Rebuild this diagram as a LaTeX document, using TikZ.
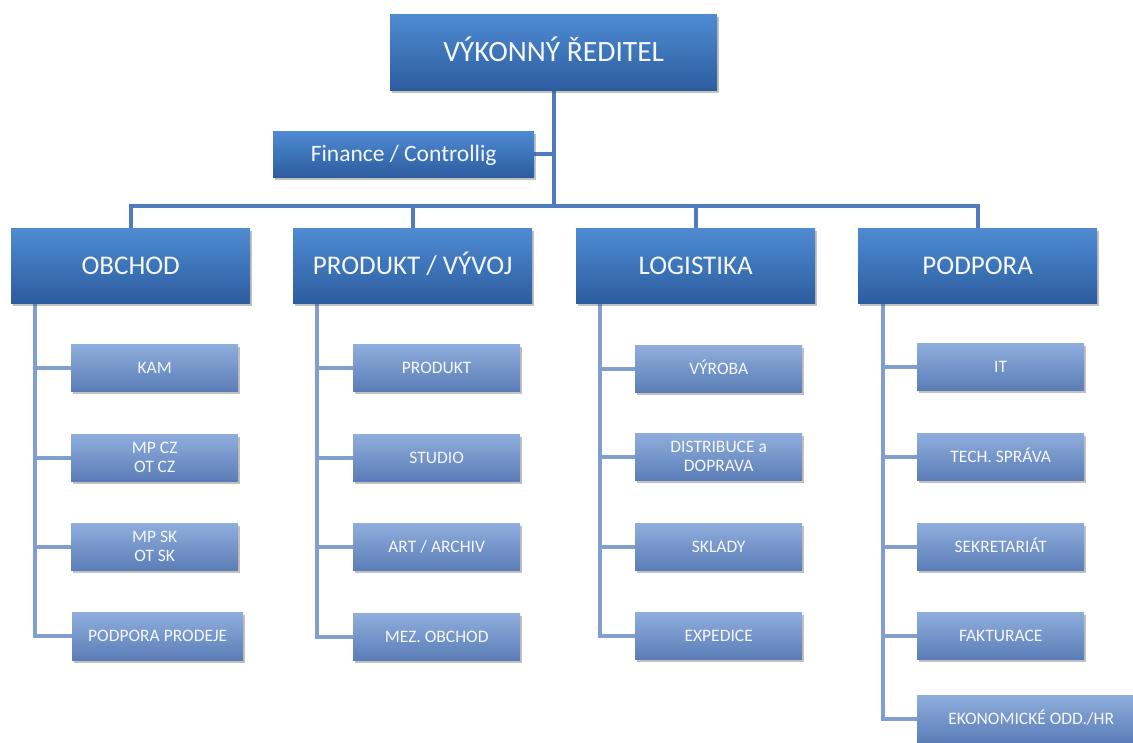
\documentclass[tikz,border=0pt]{standalone}
\usepackage{fontspec}
\setmainfont{Carlito}
\usetikzlibrary{shadows}
\pgfdeclarelayer{background}
\pgfsetlayers{background,main}
\definecolor{boxtop}{HTML}{4F8BD2}
\definecolor{boxbot}{HTML}{2C5D9F}
\definecolor{subtop}{HTML}{8FAEDD}
\definecolor{subbot}{HTML}{5B7DB7}
\definecolor{mainline}{HTML}{4E7CBC}
\definecolor{subline}{HTML}{809ECE}
\definecolor{txt}{HTML}{F4F7FC}
\tikzset{
  x=1pt, y=-1pt,
  boxbase/.style={rectangle, anchor=north west, inner sep=2pt, align=center,
    text=txt, draw=none, text depth=0pt,
    drop shadow={shadow xshift=2pt, shadow yshift=-3pt, opacity=0.35, fill=black!70}},
  twolines/.style={text height=, text depth=},
  headbox/.style={boxbase, top color=boxtop, bottom color=boxbot, text height=17.4pt,
    minimum width=239pt, minimum height=75pt, font=\fontsize{27}{30}\selectfont},
  ceobox/.style={boxbase, top color=boxtop, bottom color=boxbot, text height=19pt,
    minimum width=327pt, minimum height=76pt, font=\fontsize{29.5}{32}\selectfont},
  finbox/.style={boxbase, top color=boxtop, bottom color=boxbot, text height=15.1pt,
    minimum width=261pt, minimum height=46pt, font=\fontsize{23.5}{26}\selectfont},
  unitbox/.style={boxbase, top color=subtop, bottom color=subbot, text height=11.3pt,
    minimum width=167pt, minimum height=47pt, font=\fontsize{17.5}{18}\selectfont},
  mainlink/.style={draw=mainline, line width=4pt},
  sublink/.style={draw=subline, line width=4pt},
}
\begin{document}
\begin{tikzpicture}
\useasboundingbox (0,0) rectangle (1133,743);
\clip (0,0) rectangle (1133,743);

% anchor points of the horizontal bar and the division branch lines
\coordinate (bar) at (553,206);
\coordinate (ol) at (35,303);
\coordinate (pl) at (317,303);
\coordinate (ll) at (600,303);
\coordinate (sl) at (883,303);

% top level
\node[ceobox] (ceo) at (390,14) {VÝKONNÝ ŘEDITEL};
\node[finbox] (fin) at (273,131) {Finance / Controllig};

% divisions
\node[headbox] (obchod) at (11,228) {OBCHOD};
\node[headbox] (produkt) at (293,228) {PRODUKT / VÝVOJ};
\node[headbox] (logist) at (576,228) {LOGISTIKA};
\node[headbox] (podpora) at (858,228) {PODPORA};

% units: OBCHOD
\node[unitbox] (kam) at (71,344) {KAM};
\node[unitbox, twolines] (mpcz) at (71,434) {MP CZ\\[1pt]OT CZ};
\node[unitbox, twolines] (mpsk) at (71,523) {MP SK\\[1pt]OT SK};
\node[unitbox, minimum width=171pt, minimum height=48pt] (prodeje) at (72,612) {PODPORA PRODEJE};

% units: PRODUKT / VYVOJ
\node[unitbox] (prod) at (353,344) {PRODUKT};
\node[unitbox] (studio) at (353,434) {STUDIO};
\node[unitbox] (art) at (353,523) {ART / ARCHIV};
\node[unitbox] (mez) at (353,613) {MEZ. OBCHOD};

% units: LOGISTIKA
\node[unitbox] (vyroba) at (635,345) {VÝROBA};
\node[unitbox, twolines] (distr) at (635,433) {DISTRIBUCE a\\[1pt]DOPRAVA};
\node[unitbox] (sklady) at (635,523) {SKLADY};
\node[unitbox] (exped) at (635,612) {EXPEDICE};

% units: PODPORA
\node[unitbox] (it) at (917,343) {IT};
\node[unitbox] (tech) at (917,433) {TECH. SPRÁVA};
\node[unitbox] (sekr) at (917,523) {SEKRETARIÁT};
\node[unitbox] (fakt) at (917,612) {FAKTURACE};
\node[unitbox, minimum width=228pt] (ekon) at (917,695) {EKONOMICKÉ ODD./HR};

\begin{pgfonlayer}{background}
% main tree
\draw[mainlink] (ceo.south) -- (ceo.south |- bar);
\draw[mainlink] (fin.east) -- (fin.east -| ceo.south);
\draw[mainlink] (obchod.north) -- (obchod.north |- bar) -- (podpora.north |- bar) -- (podpora.north);
\draw[mainlink] (produkt.north) -- (produkt.north |- bar);
\draw[mainlink] (logist.north) -- (logist.north |- bar);

% branch lines of each division
\draw[sublink] (ol) |- (prodeje.west);
\draw[sublink] (kam.west) -- (kam.west -| ol);
\draw[sublink] (mpcz.west) -- (mpcz.west -| ol);
\draw[sublink] (mpsk.west) -- (mpsk.west -| ol);

\draw[sublink] (pl) |- (mez.west);
\draw[sublink] (prod.west) -- (prod.west -| pl);
\draw[sublink] (studio.west) -- (studio.west -| pl);
\draw[sublink] (art.west) -- (art.west -| pl);

\draw[sublink] (ll) |- (exped.west);
\draw[sublink] (vyroba.west) -- (vyroba.west -| ll);
\draw[sublink] (distr.west) -- (distr.west -| ll);
\draw[sublink] (sklady.west) -- (sklady.west -| ll);

\draw[sublink] (sl) |- (ekon.west);
\draw[sublink] (it.west) -- (it.west -| sl);
\draw[sublink] (tech.west) -- (tech.west -| sl);
\draw[sublink] (sekr.west) -- (sekr.west -| sl);
\draw[sublink] (fakt.west) -- (fakt.west -| sl);
\end{pgfonlayer}
\end{tikzpicture}
\end{document}
